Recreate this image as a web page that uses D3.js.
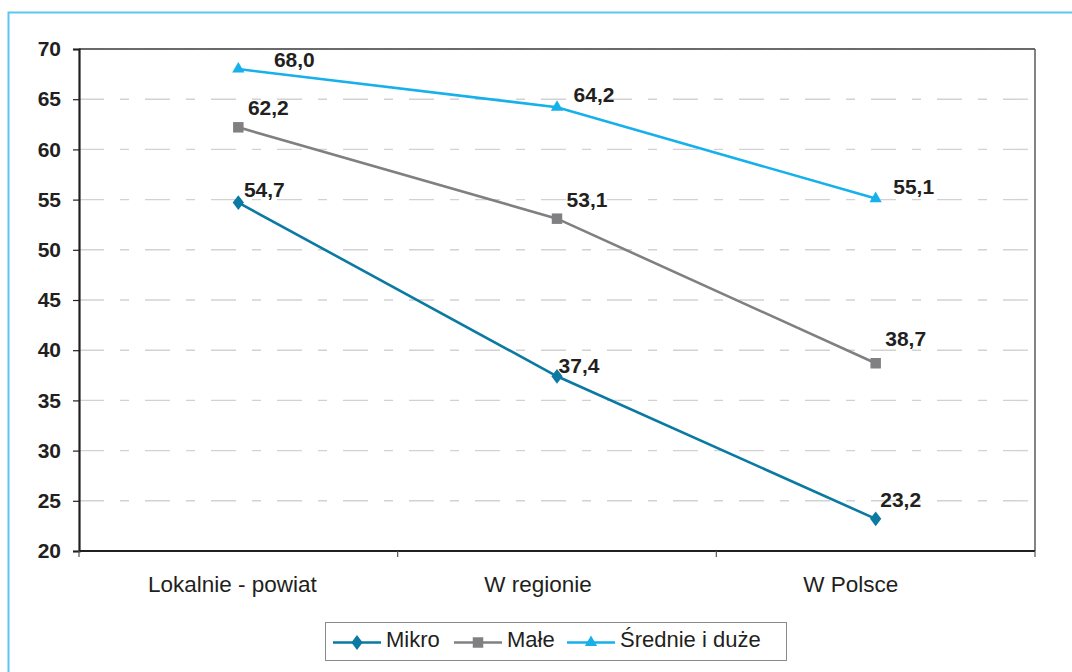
<!DOCTYPE html>
<html>
<head>
<meta charset="utf-8">
<script src="https://cdn.jsdelivr.net/npm/d3@7"></script>
<style>
  html, body { margin: 0; padding: 0; background: #fff; }
  svg { display: block; font-family: "Liberation Sans", Arial, sans-serif; }
</style>
</head>
<body>
<svg id="chart" width="1072" height="672"></svg>
<script>
// Categories and series values
const categories = ["Lokalnie - powiat", "W regionie", "W Polsce"];
const seriesNames = ["Mikro", "Małe", "Średnie i duże"];
const mikro = [54.7, 37.4, 23.2];
const male = [62.2, 53.1, 38.7];
const srednie = [68.0, 64.2, 55.1];
const yTicks = [20, 25, 30, 35, 40, 45, 50, 55, 60, 65, 70];

// Styling per series
const colors = ["#0a7aa3", "#808083", "#16b0ea"];
const symbols = [d3.symbolDiamond, d3.symbolSquare, d3.symbolTriangle];
const symbolSizes = [70, 110, 65];
// Label offsets (dx, dy) from each point, per series
const labelOffsets = [
  [[26, -6], [22, -3], [25, -12]],
  [[30, -12], [30, -12], [30, -17]],
  [[56, -2], [37, -5], [38, -5]]
];
// Horizontal nudge of each category label
const categoryShift = [-6, -19, -25];

const svg = d3.select("#chart");
const seriesData = [mikro, male, srednie];
const FONT = "Liberation Sans, Arial, sans-serif";

// Outer frame
svg.append("rect")
  .attr("x", 8.5).attr("y", 12.5)
  .attr("width", 1080).attr("height", 680)
  .attr("fill", "none").attr("stroke", "#5cc6ef").attr("stroke-width", 2);

const plot = { left: 79, right: 1035, top: 49, bottom: 551 };

const x = d3.scaleBand().domain(categories).range([plot.left, plot.right]);
const y = d3.scaleLinear().domain([20, 70]).range([plot.bottom, plot.top]);

// Plot frame: top and right edges
svg.append("line")
  .attr("x1", plot.left).attr("x2", plot.right)
  .attr("y1", y(70)).attr("y2", y(70))
  .attr("stroke", "#3a3a3a").attr("stroke-width", 1.6);
svg.append("line")
  .attr("x1", plot.right).attr("x2", plot.right)
  .attr("y1", plot.top).attr("y2", plot.bottom)
  .attr("stroke", "#5a5a5a").attr("stroke-width", 1.5);

// Horizontal dashed gridlines
svg.append("g")
  .selectAll("line")
  .data(yTicks.filter(t => t > 20))
  .join("line")
  .attr("x1", plot.left).attr("x2", plot.right - 4)
  .attr("y1", d => y(d)).attr("y2", d => y(d))
  .attr("stroke", d => d === 70 ? "#6a6a6a" : "#d2d2d2")
  .attr("stroke-width", d => d === 70 ? 1.6 : 1.4)
  .attr("stroke-dasharray", "25,16,9,16");

// Y axis
const yAxis = svg.append("g")
  .attr("transform", `translate(${plot.left},0)`)
  .call(d3.axisLeft(y).tickValues(yTicks).tickSize(6).tickPadding(12).tickFormat(d3.format("d")));
yAxis.select(".domain").attr("stroke", "#231f20").attr("stroke-width", 2.2);
yAxis.selectAll(".tick line").attr("stroke", "#231f20").attr("stroke-width", 1.2);
yAxis.selectAll(".tick text")
  .attr("font-size", 21).attr("font-weight", "bold").attr("fill", "#231f20")
  .attr("font-family", FONT);

// X axis
const xAxis = svg.append("g")
  .attr("transform", `translate(0,${plot.bottom})`)
  .call(d3.axisBottom(x).tickSize(0).tickPadding(0));
xAxis.select(".domain").remove();
svg.append("line")
  .attr("x1", plot.left).attr("x2", plot.right)
  .attr("y1", plot.bottom).attr("y2", plot.bottom)
  .attr("stroke", "#231f20").attr("stroke-width", 2.2);
xAxis.selectAll(".tick text")
  .attr("y", 41).attr("dy", null)
  .attr("dx", (d, i) => categoryShift[i])
  .attr("font-size", 22.5).attr("fill", "#231f20")
  .attr("font-family", FONT);
// Category separators below the axis
svg.append("g").selectAll("line")
  .data(categories.map(c => x(c)).concat([plot.right]))
  .join("line")
  .attr("x1", d => d).attr("x2", d => d)
  .attr("y1", plot.bottom).attr("y2", plot.bottom + 6)
  .attr("stroke", "#555").attr("stroke-width", 1.2);

const cx = c => x(c) + x.bandwidth() / 2;

// Lines, markers and value labels
seriesData.forEach((vals, si) => {
  const pts = vals.map((v, i) => [cx(categories[i]), y(v)]);
  svg.append("path")
    .attr("d", d3.line()(pts))
    .attr("fill", "none")
    .attr("stroke", colors[si]).attr("stroke-width", 2.6);
  svg.append("g").selectAll("path")
    .data(pts)
    .join("path")
    .attr("transform", d => `translate(${d[0]},${d[1]})` + (si === 0 ? " scale(1.25,0.95)" : ""))
    .attr("d", d3.symbol().type(symbols[si]).size(symbolSizes[si]))
    .attr("fill", colors[si]);
  svg.append("g").selectAll("text")
    .data(vals)
    .join("text")
    .attr("x", (v, i) => pts[i][0] + labelOffsets[si][i][0])
    .attr("y", (v, i) => pts[i][1] + labelOffsets[si][i][1])
    .attr("text-anchor", "middle")
    .attr("font-size", 21).attr("font-weight", "bold").attr("fill", "#231f20")
    .text(v => d3.format(".1f")(v).replace(".", ","));
});

// Legend
const legend = svg.append("g");
legend.append("rect")
  .attr("x", 325.5).attr("y", 622.5).attr("width", 461).attr("height", 38)
  .attr("fill", "#fff").attr("stroke", "#8a8a8a").attr("stroke-width", 1);
const legendX = [333, 454, 567];
seriesNames.forEach((name, si) => {
  const g = legend.append("g").attr("transform", `translate(${legendX[si]},642.5)`);
  g.append("line").attr("x1", 0).attr("x2", 48).attr("y1", 0).attr("y2", 0)
    .attr("stroke", colors[si]).attr("stroke-width", 2.6);
  g.append("path")
    .attr("transform", "translate(24,0)" + (si === 0 ? " scale(1.25,0.95)" : ""))
    .attr("d", d3.symbol().type(symbols[si]).size(symbolSizes[si]))
    .attr("fill", colors[si]);
  g.append("text").attr("x", 53).attr("y", 4.5)
    .attr("font-size", 22).attr("fill", "#231f20")
    .attr("font-family", FONT)
    .text(name);
});
</script>
</body>
</html>
